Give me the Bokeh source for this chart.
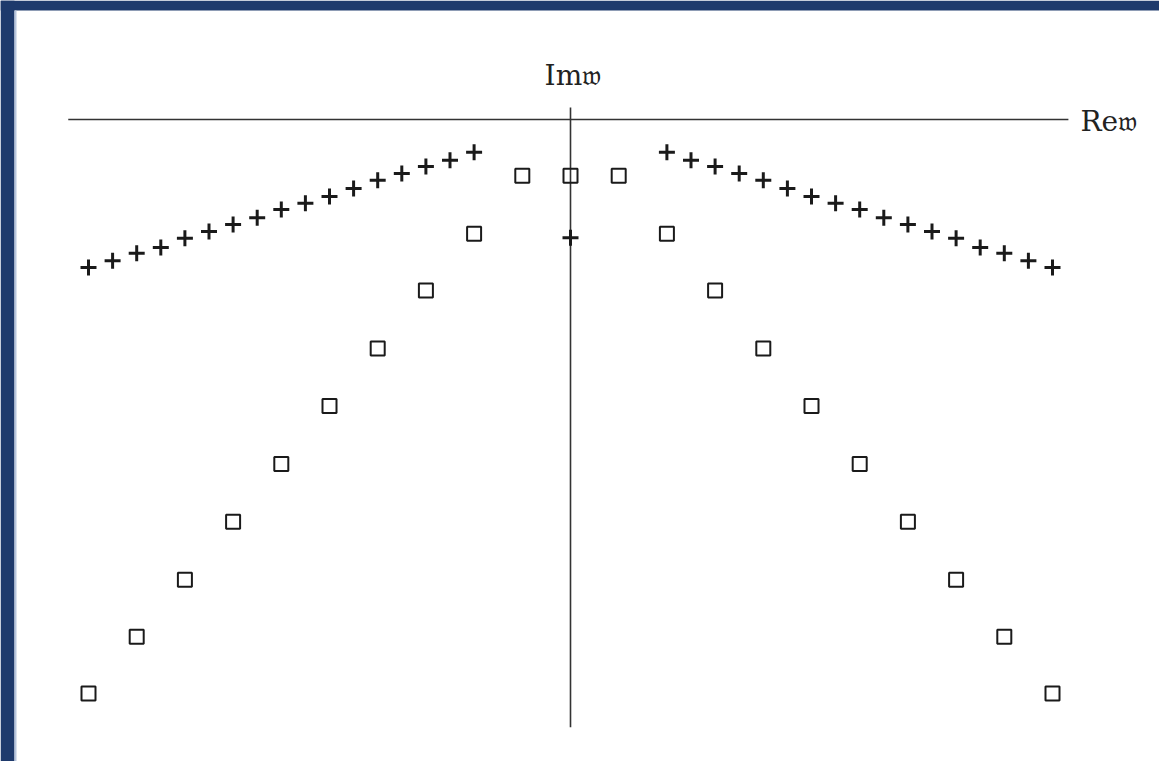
from bokeh.plotting import figure
from bokeh.models import Range1d
from bokeh.core.properties import value
from bokeh.embed import file_html
from bokeh.resources import INLINE

# Complex frequency plane: Re w horizontal, Im w vertical (negative downwards)
# Square modes: one on the imaginary axis, two ladders going down-left and down-right
square_re = [0, -1, -2, -3, -4, -5, -6, -7, -8, -9, -10,
             1, 2, 3, 4, 5, 6, 7, 8, 9, 10]
square_im = [-0.98, -0.98, -1.99, -2.98, -3.99, -4.99, -6.0, -7.01, -8.02, -9.01, -10.0,
             -0.98, -1.99, -2.98, -3.99, -4.99, -6.0, -7.01, -8.02, -9.01, -10.0]

# Cross modes: a purely imaginary one and two shallow branches
cross_center_re = [0]
cross_center_im = [-2.06]
cross_left_re = [-2.0, -2.5, -3.0, -3.5, -4.0, -4.5, -5.0, -5.5, -6.0,
                 -6.5, -7.0, -7.5, -8.0, -8.5, -9.0, -9.5, -10.0]
cross_im = [-0.57, -0.71, -0.82, -0.94, -1.06, -1.20, -1.34, -1.46, -1.57,
            -1.71, -1.83, -1.95, -2.07, -2.23, -2.33, -2.46, -2.58]
cross_right_re = [-v for v in cross_left_re]

# Extent of the drawn coordinate axes
re_axis = [-10.42, 10.33]
im_axis = [0.21, -10.59]

W, H = 1159, 761
# one data unit: 48.2 px horizontally, 57.4 px vertically; origin at (570, 119) px
X0, Y0, SX, SY = 570.0, 119.0, 48.2, 57.4
x_lo, x_hi = -X0 / SX, (W - X0) / SX
y_hi, y_lo = Y0 / SY, -(H - Y0) / SY

p = figure(width=W, height=H, output_backend="svg", toolbar_location=None,
           min_border=0, border_fill_color="white", background_fill_color="white",
           outline_line_color=None)
p.x_range = Range1d(x_lo, x_hi)
p.y_range = Range1d(y_lo, y_hi)
p.xaxis.visible = False
p.yaxis.visible = False
p.grid.visible = False

# dark blue frame along the top and left edges, with a pale inner edge
navy = "#1e3a6c"
left_edge = x_lo + 14 / SX
top_edge = y_hi - 10 / SY
p.quad(left=[x_lo], right=[left_edge], bottom=[y_lo], top=[y_hi],
       fill_color=navy, line_color=None)
p.quad(left=[x_lo], right=[x_hi], bottom=[top_edge], top=[y_hi],
       fill_color=navy, line_color=None)
p.quad(left=[left_edge], right=[left_edge + 2 / SX], bottom=[y_lo], top=[top_edge],
       fill_color="#b7c6de", line_color=None)

ink = "#1a1a1a"
p.line(re_axis, [0, 0], line_color="#333333", line_width=1.6)
p.line([0, 0], im_axis, line_color="#333333", line_width=1.6)

p.text(x=[0.05], y=[0.76], text=["Im𝔴"], text_align="center", text_baseline="middle",
       text_font=value("DejaVu Serif"), text_font_size="28px", text_color="#222222")
p.text(x=[10.58], y=[-0.04], text=["Re𝔴"], text_align="left", text_baseline="middle",
       text_font=value("DejaVu Serif"), text_font_size="28px", text_color="#222222")

p.scatter(square_re, square_im, marker="square", size=14, fill_color=None,
          line_color=ink, line_width=2)
p.scatter(cross_left_re, cross_im, marker="cross", size=16, line_color=ink, line_width=3)
p.scatter(cross_right_re, cross_im, marker="cross", size=16, line_color=ink, line_width=3)
p.scatter(cross_center_re, cross_center_im, marker="cross", size=16, line_color=ink, line_width=3)

open("out.html", "w").write(file_html(p, INLINE))
